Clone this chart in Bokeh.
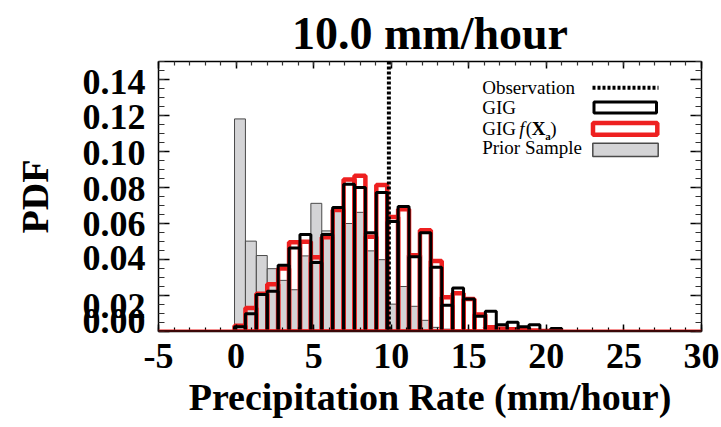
import numpy as np
from bokeh.plotting import figure
from bokeh.models import (Range1d, LinearAxis, FixedTicker, Span, Label,
                          BoxAnnotation, Arrow, ColumnDataSource)
from bokeh.embed import file_html
from bokeh.resources import INLINE

# ---------------- data ----------------
title_text = "10.0 mm/hour"
x_label = "Precipitation Rate (mm/hour)"
y_label = "PDF"
observation = 9.85
bin_start = -0.1
bin_width = 0.703

prior_sample = [0.1181, 0.0502, 0.0422, 0.0349, 0.0284, 0.0232, 0.0420, 0.0712,
                0.0559, 0.0668, 0.0600, 0.0662, 0.0448, 0.0399, 0.0152, 0.0250,
                0.0140, 0.0062, 0.0023, 0.0013, 0.0008, 0.0008, 0.0004, 0.0003,
                0.0, 0.0, 0.0, 0.0, 0.0, 0.0]
gig = [0.0027, 0.0098, 0.0206, 0.0224, 0.0368, 0.0464, 0.0539, 0.0383,
       0.0539, 0.0689, 0.0818, 0.0800, 0.0548, 0.0772, 0.0611, 0.0695,
       0.0415, 0.0549, 0.0357, 0.0146, 0.0242, 0.0181, 0.0085, 0.0112,
       0.0038, 0.0051, 0.0027, 0.0038, 0.0003, 0.0017]
gig_fxa = [0.0032, 0.0131, 0.0210, 0.0262, 0.0350, 0.0496, 0.0499, 0.0413,
           0.0524, 0.0675, 0.0844, 0.0865, 0.0526, 0.0814, 0.0636, 0.0679,
           0.0423, 0.0563, 0.0392, 0.0190, 0.0213, 0.0180, 0.0095, 0.0023,
           0.0015, 0.0012, 0.0008, 0.0005, 0.0003, 0.0]

x_ticks = [-5, 0, 5, 10, 15, 20, 25, 30]
x_tick_labels = ["-5", "0", "5", "10", "15", "20", "25", "30"]
y_ticks = [0.0, 0.02, 0.04, 0.06, 0.08, 0.10, 0.12, 0.14]
y_tick_labels = ["0.00", "0.02", "0.04", "0.06", "0.08", "0.10", "0.12", "0.14"]
y_label_pos = [0.0061, 0.0144, 0.0411, 0.0600, 0.0794, 0.0989, 0.1189, 0.1385]
legend_labels = ["Observation", "GIG", "GIG", "Prior Sample"]

n = len(gig)
left = bin_start + bin_width * np.arange(n)
src = ColumnDataSource(dict(left=left, right=left + bin_width,
                            prior=prior_sample, gig=gig, fxa=gig_fxa))

FONT = "Liberation Serif"

p = figure(width=721, height=427, x_range=Range1d(-5, 30), y_range=Range1d(0, 0.15),
           output_backend="svg", toolbar_location=None,
           x_axis_location=None, y_axis_location=None,
           min_border_left=158, min_border_right=20,
           min_border_top=61, min_border_bottom=96)
p.grid.grid_line_color = None
p.outline_line_color = None
p.background_fill_color = "white"
p.border_fill_color = "white"

p.title.text = title_text
p.title.text_font = FONT
p.title.text_font_style = "bold"
p.title.text_font_size = "46px"
p.title.text_color = "black"
p.title.align = "center"
p.title.standoff = 6

x_minor = list(range(-5, 31))
y_minor = [round(0.005 * i, 3) for i in range(31)]


def tick_only(ticks, minor, tin, mtin):
    ax = LinearAxis(ticker=FixedTicker(ticks=ticks, minor_ticks=minor))
    ax.major_tick_in = tin
    ax.major_tick_out = 0
    ax.minor_tick_in = mtin
    ax.minor_tick_out = 0
    ax.major_label_overrides = {t: "" for t in ticks}
    ax.major_label_text_font_size = "0px"
    ax.major_label_standoff = 0
    ax.axis_line_width = 1.5
    ax.major_tick_line_width = 1.5
    ax.minor_tick_line_width = 1.2
    ax.axis_line_color = "black"
    ax.major_tick_line_color = "black"
    ax.minor_tick_line_color = "#333333"
    return ax


# bottom axis: ticks + labels
xb = LinearAxis(ticker=FixedTicker(ticks=x_ticks, minor_ticks=x_minor),
                axis_label=x_label)
xb.major_label_overrides = {t: lab for t, lab in zip(x_ticks, x_tick_labels)}
xb.major_tick_in = 7
xb.major_tick_out = 0
xb.minor_tick_in = 4
xb.minor_tick_out = 0
xb.axis_line_width = 1.5
xb.major_tick_line_width = 1.5
xb.minor_tick_line_width = 1.2
xb.major_label_text_font = FONT
xb.major_label_text_font_style = "bold"
xb.major_label_text_font_size = "36px"
xb.major_label_text_color = "black"
xb.major_label_standoff = 12
xb.axis_label_text_font = FONT
xb.axis_label_text_font_style = "bold"
xb.axis_label_text_font_size = "38px"
xb.axis_label_text_color = "black"
xb.axis_label_standoff = 5
p.add_layout(xb, "below")

p.add_layout(tick_only(x_ticks, x_minor, 7, 4), "above")
p.add_layout(tick_only(y_ticks, y_minor, 11, 6), "right")
p.add_layout(tick_only(y_ticks, y_minor, 11, 6), "left")

# left label axis (labels only)
yl = LinearAxis(ticker=FixedTicker(ticks=y_label_pos, minor_ticks=[]),
                axis_label=y_label)
yl.major_label_overrides = {pos: lab for pos, lab in zip(y_label_pos, y_tick_labels)}
yl.axis_line_color = None
yl.major_tick_line_color = None
yl.minor_tick_line_color = None
yl.major_tick_in = 0
yl.major_tick_out = 0
yl.major_label_text_font = FONT
yl.major_label_text_font_style = "bold"
yl.major_label_text_font_size = "36px"
yl.major_label_text_color = "black"
yl.major_label_standoff = 13
yl.axis_label_text_font = FONT
yl.axis_label_text_font_style = "bold"
yl.axis_label_text_font_size = "38px"
yl.axis_label_text_color = "black"
yl.axis_label_standoff = 24
p.add_layout(yl, "left")

# bars
p.quad(left="left", right="right", bottom=0, top="prior", source=src,
       fill_color="#d4d4d6", line_color="#4a4a4a", line_width=1)
p.quad(left="left", right="right", bottom=0, top="fxa", source=src,
       fill_color=None, line_color="#ee2020", line_width=4.5)
p.quad(left="left", right="right", bottom=0, top="gig", source=src,
       fill_color=None, line_color="black", line_width=3)

p.add_layout(Span(location=0, dimension="width", line_color="#ee2020", line_width=4))
p.add_layout(Span(location=0, dimension="width", line_color="black", line_width=2.5))
p.add_layout(Span(location=observation, dimension="height", line_color="black",
                  line_width=4, line_dash="3 2"))

# legend (label on the left, sample on the right)
rows_y = [244.3, 224.3, 203.3, 183.7]
tx = 323.7
for lab, yy in zip(legend_labels, rows_y):
    p.add_layout(Label(x=tx, y=yy, x_units="screen", y_units="screen", text=lab,
                       text_font=FONT, text_font_size="19px", text_baseline="middle",
                       text_align="left", text_color="black"))
# pieces of "GIG f(Xa)"
fx = tx + 37
parts = [("f", "italic", "19px", 0, 0), ("(", "normal", "19px", 6.5, 0),
         ("X", "bold", "19px", 12.5, 0), ("a", "bold", "11px", 26, -8),
         (")", "normal", "19px", 31, 0)]
for t, st, fs, dx, dy in parts:
    p.add_layout(Label(x=fx + dx, y=rows_y[2] + dy, x_units="screen", y_units="screen",
                       text=t, text_font=FONT, text_font_style=st, text_font_size=fs,
                       text_baseline="middle", text_align="left", text_color="black"))

p.add_layout(Arrow(x_start=434, y_start=243.7, x_end=500, y_end=243.7,
                   start_units="screen", end_units="screen", start=None, end=None,
                   line_color="black", line_width=4, line_dash="3 2"))
p.add_layout(BoxAnnotation(left=435.5, right=498, top=229.5, bottom=218.5,
                           left_units="screen", right_units="screen",
                           top_units="screen", bottom_units="screen",
                           fill_color="white", fill_alpha=1, line_color="black",
                           line_width=3, line_alpha=1))
p.add_layout(BoxAnnotation(left=434.5, right=498.8, top=208.5, bottom=196.8,
                           left_units="screen", right_units="screen",
                           top_units="screen", bottom_units="screen",
                           fill_color="white", fill_alpha=1, line_color="#ee2020",
                           line_width=4.5, line_alpha=1))
p.add_layout(BoxAnnotation(left=434.3, right=499.7, top=188.3, bottom=175,
                           left_units="screen", right_units="screen",
                           top_units="screen", bottom_units="screen",
                           fill_color="#d4d4d6", fill_alpha=1, line_color="#4a4a4a",
                           line_width=1.5, line_alpha=1))

open("out.html", "w").write(file_html(p, INLINE))
